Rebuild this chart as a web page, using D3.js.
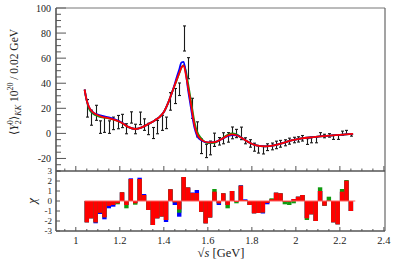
<!DOCTYPE html>
<html><head><meta charset="utf-8">
<script src="https://cdn.jsdelivr.net/npm/d3@7"></script>
<style>body{margin:0;background:#fff}svg{display:block}text{font-family:"Liberation Serif","DejaVu Serif",serif;fill:#222}</style>
</head><body><svg id="c" width="407" height="266"></svg>
<script>
// data bins (sqrt s, GeV)
const binCenters=[1.05,1.07,1.09,1.11,1.13,1.15,1.17,1.19,1.21,1.23,1.25,1.27,1.29,1.31,1.33,1.35,1.37,1.39,1.41,1.43,1.45,1.47,1.49,1.51,1.53,1.55,1.57,1.59,1.61,1.63,1.65,1.67,1.69,1.71,1.73,1.75,1.77,1.79,1.81,1.83,1.85,1.87,1.89,1.91,1.93,1.95,1.97,1.99,2.01,2.03,2.05,2.07,2.09,2.11,2.13,2.15,2.17,2.19,2.21,2.23,2.25];
const dataValues=[20,12.5,16.4,5,6.8,5,8,9,9.9,3.7,12.7,3.5,12,7,3.5,0.3,5,8.4,8.4,25.5,29.8,35.2,75.7,52,20,3.2,-10.3,-14,-11.6,-5.1,-6.3,-3.9,-3.2,0.4,-0.1,0,-5.9,-8,-11,-12.7,-13.4,-11,-10.4,-9.2,-8.3,-7.5,-6.2,-5.3,-4.8,-3.9,-6.5,-5.2,-5.2,-0.9,-2.1,-1.6,-3.2,-3.2,0.1,0.8,-1.2];
const dataErrors=[7,6,6,5,6,5,5,5.3,5.3,4,4.5,3.8,5,4.6,4.5,4.4,5.3,6,4.6,7,6,5,10,8.4,8,6,5.8,5.3,5.5,5.3,3,4.4,3.8,4.7,3.3,5,2.4,3,3.2,3,3,2.7,2.7,3,2.7,2.4,2.4,2.2,2.1,2.2,2.3,2.3,2.3,1.5,1.4,1.4,1.6,1.6,1.7,1.6,1];
// fit curves
const curveX=[1.04,1.045,1.05,1.06,1.08,1.10,1.12,1.15,1.18,1.21,1.24,1.27,1.30,1.33,1.36,1.38,1.40,1.42,1.44,1.46,1.47,1.48,1.49,1.50,1.51,1.52,1.53,1.54,1.55,1.57,1.60,1.63,1.66,1.69,1.71,1.73,1.76,1.79,1.82,1.86,1.90,1.94,1.98,2.02,2.08,2.14,2.20,2.26];
const fitRed=[35,30,26,21,16.5,14.5,13.2,12,10.5,8.3,5,3.5,4.8,7.5,10.5,13,17,24.5,34,43.5,48,52.5,54,47,37,27,16,6,0,-5,-7.2,-7,-4.8,-1.8,-0.8,-1.5,-4.3,-7.5,-9.6,-10.4,-9.6,-7.8,-5.6,-4.2,-3,-2,-1.2,-0.4];
const fitBlue=[35,30,26,21,16.5,15,14,12.8,11,8.5,5,3.5,4.8,7.5,10.5,13,17,24.5,34,45.5,51,56.5,57,48,35,24,13,4,-1.5,-5.5,-7.2,-7,-4.8,-2.3,-1.3,-1.5,-4.3,-7.5,-9.6,-10.4,-9.6,-7.8,-5.6,-4.2,-3,-2,-1.2,-0.4];
const fitGreen=[35,30,26,19.5,15.5,13.8,12.8,12,10.5,8.3,5,3.5,4.8,7.5,10.5,13,17,24.5,34,43,48,52.5,54.5,50,40,29.5,18.5,8.5,2,-4,-7.8,-7.5,-4.5,-1.2,0,-0.8,-4.3,-7.5,-9.6,-10.4,-9.6,-7.8,-5.6,-4.2,-3,-2,-1.2,-0.4];
// chi per bin for each fit
const chiRed=[-2.13,-1.73,-2.13,-1.17,-1.63,-0.5,-0.4,-0.23,0.87,-0.4,2.2,-0.23,2.2,0.6,-0.9,-2.4,-1.73,-1.55,-1.9,1.17,-0.13,-0.85,2.4,1.35,0.8,0.8,-1.08,-2.23,-1.65,0.93,-0.23,0.77,-0.4,1.0,-0.1,1.53,0.1,-0.4,-1.23,-1.2,-1.15,-0.2,0.17,0.83,0.77,-0.07,-0.07,0.2,0.43,0.6,-1.73,-1.33,-2.0,1.0,-0.47,0.05,-2.13,-2.33,0.93,2.03,-1.0];
const chiGreen=[-2.13,-1.73,-2.13,-1.17,-1.63,-0.5,-0.4,-0.33,0.87,-0.73,2.2,-0.37,2.2,0.6,-0.9,-2.4,-1.73,-1.55,-1.9,1.17,-0.13,-1.17,2.4,1.35,0.8,0.8,-1.08,-2.23,-1.65,1.2,-0.23,0.77,-0.73,1.0,-0.23,1.53,0.1,-0.4,-1.23,-1.2,-1.15,-0.2,0.27,0.83,0.77,-0.33,-0.4,-0.23,0.43,0.6,-1.9,-1.33,-2.0,1.37,-0.47,0.43,-2.13,-2.33,1.2,2.1,-1.0];
const chiBlue=[-2.13,-1.73,-2.23,-1.3,-1.83,-0.73,-0.57,-0.23,0.87,-0.4,2.27,-0.23,2.33,0.7,-0.9,-2.4,-1.73,-1.55,-2.1,1.17,-0.4,-1.57,2.4,1.35,0.85,1.1,-1.08,-2.23,-1.65,0.93,-0.4,0.77,-0.4,1.0,-0.1,1.58,0.17,-0.4,-1.23,-1.2,-1.25,-0.33,0.17,0.83,0.77,-0.07,-0.07,0.2,0.43,0.6,-1.73,-1.33,-2.0,1.0,-0.47,0.05,-2.13,-2.33,0.93,2.03,-1.0];
const binWidth=0.02;
const xTicksMajor=[1,1.2,1.4,1.6,1.8,2,2.2,2.4];
const yTicksTop=[-20,0,20,40,60,80,100];
const yTicksChi=[-3,-2,-1,0,1,2,3];

const svg=d3.select("#c");
const x=d3.scaleLinear().domain([0.91,2.405]).range([56,385]);
const yT=d3.scaleLinear().domain([-30,100]).range([171,8]);
const yC=d3.scaleLinear().domain([-3,3]).range([231,171]);
const frame="#555";

const xMinor=d3.range(0.95,2.401,0.05).map(v=>+v.toFixed(2));
const yMinorTop=d3.range(-30,100.1,5);

const gT=svg.append("g");
xMinor.forEach(v=>{const maj=xTicksMajor.some(m=>Math.abs(m-v)<1e-6);
  gT.append("line").attr("x1",x(v)).attr("x2",x(v)).attr("y1",yT(-30)).attr("y2",yT(-30)-(maj?5:2.5)).attr("stroke",frame).attr("stroke-width",1);
});
yMinorTop.forEach(v=>{const maj=v%20===0;
  gT.append("line").attr("x1",x(0.91)).attr("x2",x(0.91)+(maj?10:5)).attr("y1",yT(v)).attr("y2",yT(v)).attr("stroke",frame).attr("stroke-width",1);
});
yTicksTop.forEach(v=>gT.append("text").attr("x",51).attr("y",yT(v)+3.5).attr("text-anchor","end").attr("font-size",10).text(v));

xMinor.forEach(v=>{const maj=xTicksMajor.some(m=>Math.abs(m-v)<1e-6);
  gT.append("line").attr("x1",x(v)).attr("x2",x(v)).attr("y1",yC(-3)).attr("y2",yC(-3)-(maj?4:2)).attr("stroke",frame).attr("stroke-width",1);
});
yTicksChi.forEach(v=>{
  gT.append("line").attr("x1",x(0.91)).attr("x2",x(0.91)+4).attr("y1",yC(v)).attr("y2",yC(v)).attr("stroke",frame).attr("stroke-width",1);
  gT.append("text").attr("x",52).attr("y",yC(v)+3).attr("text-anchor","end").attr("font-size",9).text(v);
});
xTicksMajor.forEach(v=>gT.append("text").attr("x",x(v)).attr("y",243.5).attr("text-anchor","middle").attr("font-size",10.5).text(d3.format("~g")(v)));

const bars=svg.append("g");
[[chiBlue,"#0000ff"],[chiGreen,"#109a10"],[chiRed,"#ff0000"]].forEach(([arr,col])=>{
  bars.selectAll(null).data(arr).enter().append("rect")
   .attr("x",(d,i)=>x(binCenters[i]-binWidth/2))
   .attr("width",(d,i)=>x(binCenters[i]+binWidth/2)-x(binCenters[i]-binWidth/2))
   .attr("y",d=>Math.min(yC(d),yC(0)))
   .attr("height",d=>Math.abs(yC(d)-yC(0)))
   .attr("fill",col);
});
bars.append("line").attr("x1",x(1.04)).attr("x2",x(2.27)).attr("y1",yC(0)).attr("y2",yC(0)).attr("stroke","#ff6060").attr("stroke-width",1);

const eb=svg.append("g").attr("stroke","#1a1a1a").attr("stroke-width",1.1);
binCenters.forEach((c,i)=>{
  const cx=Math.round(x(c))+0.5, y1=yT(dataValues[i]+dataErrors[i]), y2=yT(dataValues[i]-dataErrors[i]);
  eb.append("line").attr("x1",cx).attr("x2",cx).attr("y1",y1).attr("y2",y2);
  eb.append("line").attr("x1",cx-1.5).attr("x2",cx+1.5).attr("y1",y1).attr("y2",y1);
  eb.append("line").attr("x1",cx-1.5).attr("x2",cx+1.5).attr("y1",y2).attr("y2",y2);
});

const line=d3.line().x((d,i)=>x(curveX[i])).y(d=>yT(d)).curve(d3.curveMonotoneX);
[[fitGreen,"#109a10"],[fitBlue,"#0000ff"],[fitRed,"#ff0000"]].forEach(([arr,col])=>{
  svg.append("path").attr("d",line(arr)).attr("fill","none").attr("stroke",col).attr("stroke-width",1.8);
});

const f=svg.append("g").attr("fill","none");
f.append("line").attr("x1",x(0.91)).attr("x2",x(2.405)).attr("y1",yT(100)).attr("y2",yT(100)).attr("stroke","#777").attr("stroke-width",1);
f.append("line").attr("x1",x(2.405)).attr("x2",x(2.405)).attr("y1",yT(100)).attr("y2",yC(-3)).attr("stroke","#666").attr("stroke-width",1.2);
f.append("line").attr("x1",x(0.91)).attr("x2",x(0.91)).attr("y1",yT(100)).attr("y2",yC(-3)).attr("stroke",frame).attr("stroke-width",1.6);
f.append("line").attr("x1",x(0.91)).attr("x2",x(2.405)).attr("y1",yT(-30)).attr("y2",yT(-30)).attr("stroke",frame).attr("stroke-width",1.6);
f.append("line").attr("x1",x(0.91)).attr("x2",x(2.405)).attr("y1",yC(-3)).attr("y2",yC(-3)).attr("stroke",frame).attr("stroke-width",1.6);

const yl=svg.append("text").attr("transform","translate(18,82) rotate(-90)").attr("text-anchor","middle").attr("font-size",11.5);
yl.append("tspan").text("⟨");
yl.append("tspan").attr("font-style","italic").text("Y");
yl.append("tspan").attr("font-size",8).attr("dy",-5).text("0");
yl.append("tspan").attr("font-size",8).attr("dx",-4).attr("dy",8).text("2");
yl.append("tspan").attr("dy",-3).text("⟩");
yl.append("tspan").attr("font-size",8).attr("font-style","italic").attr("dy",3).text("KK");
yl.append("tspan").attr("dy",-3).text("  10");
yl.append("tspan").attr("font-size",8).attr("dy",-5).text("20");
yl.append("tspan").attr("dy",5).text(" / 0.02 GeV");
svg.append("text").attr("transform","translate(36,201) rotate(-90)").attr("text-anchor","middle").attr("font-size",13).attr("font-style","italic").text("χ");
const xl=svg.append("text").attr("x",221).attr("y",257).attr("text-anchor","middle").attr("font-size",12.5);
xl.append("tspan").text("√");
xl.append("tspan").attr("font-style","italic").text("s");
xl.append("tspan").text(" [GeV]");
</script></body></html>
